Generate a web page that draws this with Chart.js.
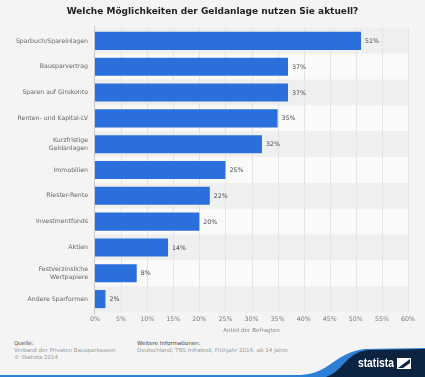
<!DOCTYPE html>
<html><head><meta charset="utf-8">
<script src="https://cdn.jsdelivr.net/npm/chart.js@4"></script>
<style>
html,body{margin:0;padding:0;background:#f4f4f4;}
#wrap{position:relative;width:425px;height:377px;overflow:hidden;background:#f4f4f4;font-family:"DejaVu Sans",sans-serif;}
#title{position:absolute;left:0;top:6px;width:425px;text-align:center;font-weight:bold;font-size:9px;color:#222;}
#cv{position:absolute;left:0;top:0;}
.ft{position:absolute;font-size:5.5px;color:#999;line-height:7px;}
.ft b{color:#444;font-weight:normal;}
#logo{position:absolute;left:0;top:0;}
#logotext{position:absolute;left:358px;top:356px;font-size:12.5px;font-weight:bold;color:#fff;font-family:"Liberation Sans",sans-serif;transform:scaleX(0.82);transform-origin:0 0;line-height:14px;}
</style></head><body>
<div id="wrap">
<canvas id="cv" width="425" height="335"></canvas>
<div id="title">Welche Möglichkeiten der Geldanlage nutzen Sie aktuell?</div>
<div class="ft" style="left:14px;top:340px;"><b>Quelle:</b><br>Verband der Privaten Bausparkassen<br>© Statista 2014</div>
<div class="ft" style="left:137px;top:340px;"><b>Weitere Informationen:</b><br>Deutschland; TNS Infratest; Frühjahr 2014, ab 14 Jahre</div>
<svg id="logo" width="425" height="377">
<path d="M0 375 L300 375 C330 374 335 352 365 349 L425 348 L425 377 L0 377 Z" fill="#2e7fd6"/>
<path d="M326 377 C345 370 345 353 368 350 L425 349 L425 377 Z" fill="#0d2342"/>
<rect x="397" y="358" width="14" height="11" fill="#fff"/>
<path d="M398 368 L410 359 L410 363 L403 368 Z" fill="#0d2342"/>
</svg>
<div id="logotext">statista</div>
</div>
<script>
const categories = ["Sparbuch/Spareinlagen","Bausparvertrag","Sparen auf Girokonto","Renten- und Kapital-LV",["Kurzfristige","Geldanlagen"],"Immobilien","Riester-Rente","Investmentfonds","Aktien",["Festverzinsliche","Wertpapiere"],"Andere Sparformen"];
const values = [51,37,37,35,32,25,22,20,14,8,2];
const xTicks = [0,5,10,15,20,25,30,35,40,45,50,55,60];

const bands = {
  id:'bands',
  beforeDatasetsDraw(chart){
    const {ctx, chartArea:a} = chart;
    ctx.save();
    const n = categories.length;
    const h = (a.bottom - a.top)/n;
    for(let i=0;i<n;i++){
      ctx.fillStyle = i%2===0 ? '#efefef' : '#fafafa';
      ctx.fillRect(a.left, a.top + i*h, a.right - a.left, h);
    }
    const x = chart.scales.x;
    ctx.strokeStyle = '#e4e4e4'; ctx.lineWidth = 1;
    xTicks.forEach(t=>{ if(t===0) return; const px=Math.round(x.getPixelForValue(t))+0.5; ctx.beginPath(); ctx.moveTo(px,a.top); ctx.lineTo(px,a.bottom); ctx.stroke(); });
    ctx.strokeStyle = '#c8c8c8';
    const px0 = Math.round(x.getPixelForValue(0))-0.5;
    ctx.beginPath(); ctx.moveTo(px0,a.top-2); ctx.lineTo(px0,a.bottom+3); ctx.stroke();
    ctx.restore();
  }
};
const labelsPlugin = {
  id:'vlabels',
  afterDatasetsDraw(chart){
    const {ctx} = chart;
    const meta = chart.getDatasetMeta(0);
    ctx.save();
    ctx.font = '6.3px "DejaVu Sans"';
    ctx.fillStyle = '#444';
    ctx.textBaseline = 'middle';
    meta.data.forEach((bar,i)=>{ ctx.fillText(values[i]+'%', bar.x+4, bar.y+0.5); });
    ctx.restore();
  }
};

new Chart(document.getElementById('cv'), {
  type:'bar',
  data:{labels:categories, datasets:[{data:values, backgroundColor:'#2a6fdb', borderWidth:0, barPercentage:0.7, categoryPercentage:1.0}]},
  options:{
    indexAxis:'y', responsive:false, animation:false,
    layout:{padding:{top:28, right:17, bottom:1, left:0}},
    plugins:{legend:{display:false}, tooltip:{enabled:false}},
    scales:{
      x:{min:0,max:60,
        afterBuildTicks(s){ s.ticks = xTicks.map(v=>({value:v})); },
        afterFit(s){ s.height = 22; },
        grid:{display:false, drawTicks:false}, border:{display:false},
        ticks:{padding:4, font:{size:6.3, family:'DejaVu Sans'}, color:'#777', callback:v=>v+'%', maxRotation:0, autoSkip:false},
        title:{display:true, text:'Anteil der Befragten', font:{size:5.6, family:'DejaVu Sans'}, color:'#888', padding:{top:0,bottom:0}}
      },
      y:{
        afterFit(s){ s.width = 95; },
        grid:{display:false, drawTicks:false}, border:{display:false},
        ticks:{padding:7, font:{size:6.2, family:'DejaVu Sans', lineHeight:1.3}, color:'#666', autoSkip:false}
      }
    }
  },
  plugins:[bands, labelsPlugin]
});
</script>
</body></html>
